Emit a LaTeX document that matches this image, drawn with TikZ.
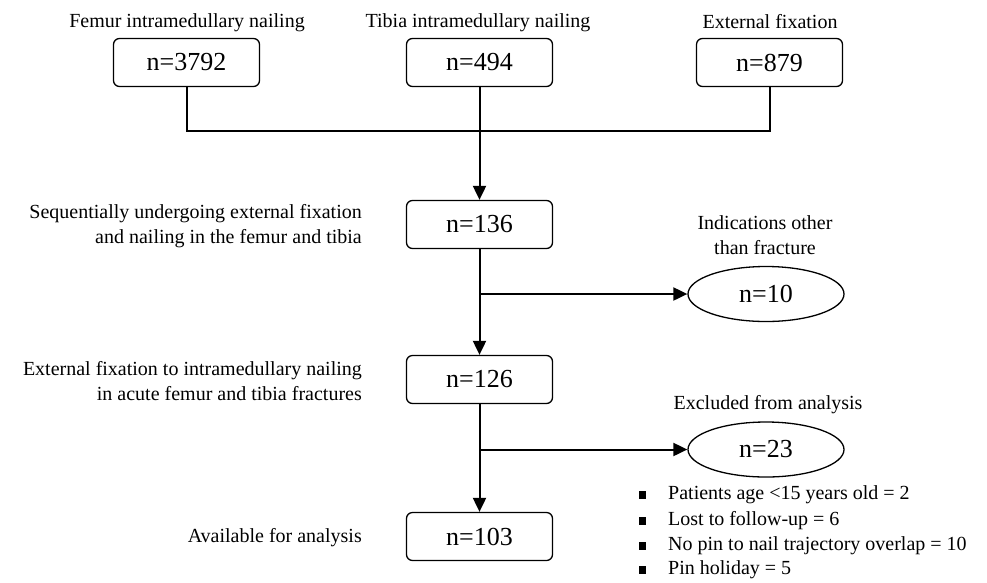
\documentclass[tikz,border=0pt]{standalone}
\usepackage{fontspec}
\setmainfont{Liberation Serif}
\usetikzlibrary{arrows.meta,shapes.geometric}
\begin{document}
\begin{tikzpicture}[x=1pt,y=-1pt,
  lab/.style={font=\fontsize{20}{25}\selectfont, inner sep=0pt},
  nbox/.style={draw, line width=1.3pt, rounded corners=6pt, minimum width=146pt, minimum height=48pt, inner sep=0pt, font=\fontsize{26}{30}\selectfont},
  nell/.style={draw, ellipse, line width=1.3pt, minimum width=156pt, minimum height=55pt, inner sep=0pt, font=\fontsize{26}{30}\selectfont},
  conn/.style={line width=2pt},
  arr/.style={line width=2pt, -{Triangle[length=14pt,width=13pt]}},
  bul/.style={fill=black, minimum width=7pt, minimum height=8pt, inner sep=0pt},
]
\useasboundingbox (0,0) rectangle (987,582);
% top labels
\node[lab] (lA) at (187,23) {Femur intramedullary nailing};
\node[lab] (lB) at (478,23) {Tibia intramedullary nailing};
\node[lab] (lC) at (770,22) {External fixation};
% top boxes
\node[nbox] (A) at (186.5,62.5) {n=3792};
\node[nbox] (B) at (479.5,62.5) {n=494};
\node[nbox] (C) at (769.5,62.5) {n=879};
% flow boxes
\node[nbox] (D) at (479.5,224.5) {n=136};
\node[nbox] (F) at (479.5,379.5) {n=126};
\node[nbox] (G) at (479.5,536.5) {n=103};
% left labels
\node[lab, align=right, anchor=east] (lD) at (362,226) {Sequentially undergoing external fixation\\and nailing in the femur and tibia};
\node[lab, align=right, anchor=east] (lF) at (362,381) {External fixation to intramedullary nailing\\in acute femur and tibia fractures};
\node[lab, anchor=east] (lG) at (362,538) {Available for analysis};
% ellipses
\node[nell] (E1) at (766,294) {n=10};
\node[nell] (E2) at (766,449.5) {n=23};
\node[lab, align=center] (lE1) at (765,235) {Indications other\\than fracture};
\node[lab] (lE2) at (768,405) {Excluded from analysis};
% bullet list
\node[bul] (b1) at (642,495) {};
\node[bul] (b2) at (642,521) {};
\node[bul] (b3) at (642,546) {};
\node[bul] (b4) at (642,570) {};
\node[lab, anchor=west] (t1) at (668,495) {Patients age {<}15 years old = 2};
\node[lab, anchor=west] (t2) at (668,521) {Lost to follow-up = 6};
\node[lab, anchor=west] (t3) at (668,546) {No pin to nail trajectory overlap = 10};
\node[lab, anchor=west] (t4) at (668,570) {Pin holiday = 5};
% connectors
\coordinate (J) at (479.5,131);
\draw[conn] (A.south) |- (J) -| (C.south);
\draw[arr] (B.south) -- (D.north);
\draw[arr] (D.south) -- (F.north);
\draw[arr] (F.south) -- (G.north);
\coordinate (k1) at (479.5,294);
\coordinate (k2) at (479.5,449.5);
\draw[arr] (k1) -- (E1.west);
\draw[arr] (k2) -- (E2.west);
\end{tikzpicture}
\end{document}
